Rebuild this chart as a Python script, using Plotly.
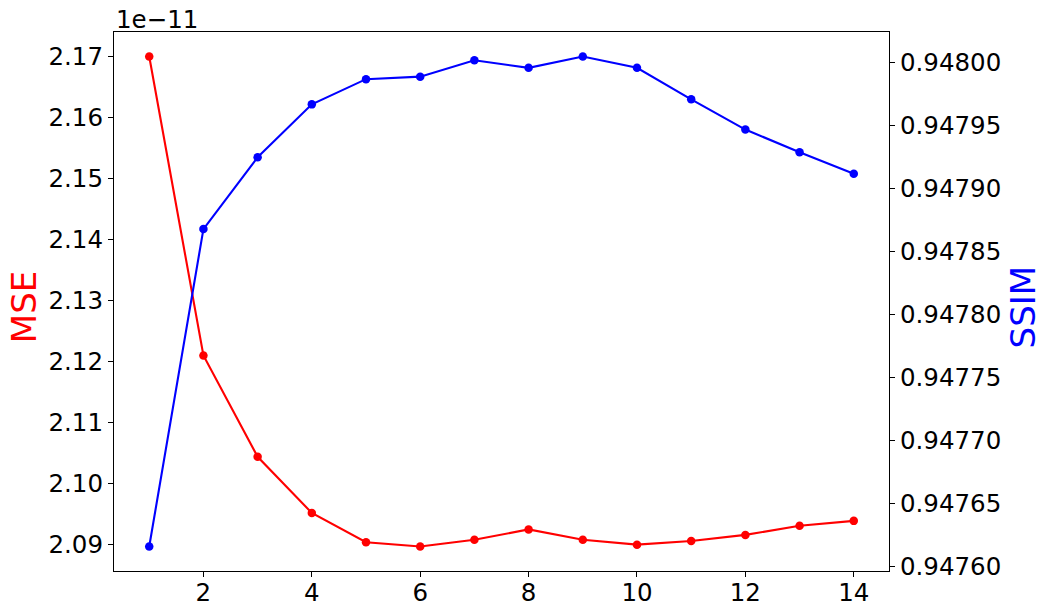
import numpy as np
import plotly.graph_objects as go

# ---- data ----
epochs = list(range(1, 15))
mse = [2.1700e-11, 2.1210e-11, 2.1044e-11, 2.0952e-11, 2.0904e-11, 2.0897e-11, 2.0908e-11,
       2.0925e-11, 2.0908e-11, 2.0900e-11, 2.0906e-11, 2.0916e-11, 2.0931e-11, 2.0939e-11]
ssim = [0.947616, 0.947868, 0.947925, 0.947967, 0.947987, 0.947989, 0.948002,
        0.947996, 0.948005, 0.947996, 0.947971, 0.947947, 0.947929, 0.947912]
x_ticks = [2, 4, 6, 8, 10, 12, 14]
mse_ticks = [2.09e-11, 2.10e-11, 2.11e-11, 2.12e-11, 2.13e-11, 2.14e-11, 2.15e-11, 2.16e-11, 2.17e-11]
ssim_ticks = [0.94760, 0.94765, 0.94770, 0.94775, 0.94780, 0.94785, 0.94790, 0.94795, 0.94800]


def padded(vals, frac=0.05):
    lo, hi = min(vals), max(vals)
    d = (hi - lo) * frac
    return [lo - d, hi + d]


FONT = "DejaVu Sans"
TICK_SIZE = 24.5
LABEL_SIZE = 34

W, H = 1051, 615
PLOT_W = 775

fig = go.Figure()
fig.add_trace(go.Scatter(x=epochs, y=mse, mode="lines+markers", yaxis="y",
                         line=dict(color="#ff0000", width=2.1),
                         marker=dict(color="#ff0000", size=8.5)))
fig.add_trace(go.Scatter(x=epochs, y=ssim, mode="lines+markers", yaxis="y2",
                         line=dict(color="#0000ff", width=2.1),
                         marker=dict(color="#0000ff", size=8.5)))

axis_common = dict(showgrid=False, zeroline=False, showline=True, linecolor="black",
                   linewidth=1.1, ticks="outside", ticklen=5, tickwidth=1.1,
                   tickcolor="black", automargin=False,
                   tickfont=dict(family=FONT, size=TICK_SIZE, color="black"))

fig.update_layout(
    width=W, height=H,
    margin=dict(l=114, r=162, t=32, b=44, autoexpand=False),
    paper_bgcolor="white", plot_bgcolor="white",
    showlegend=False,
    font=dict(family=FONT),
    xaxis=dict(range=[epochs[0] - 0.05 * (epochs[-1] - epochs[0]),
                      epochs[-1] + 0.05 * (epochs[-1] - epochs[0])],
               tickvals=x_ticks, ticktext=[str(t) for t in x_ticks],
               ticklabelstandoff=-5,
               mirror=True, **axis_common),
    yaxis=dict(range=padded(mse), tickvals=mse_ticks,
               ticktext=[f"{v / 1e-11:.2f}" for v in mse_ticks], **axis_common),
    yaxis2=dict(range=padded(ssim), tickvals=ssim_ticks,
                ticktext=[f"{v:.5f}" for v in ssim_ticks],
                overlaying="y", side="right", **axis_common),
    annotations=[
        dict(text="1e\u221211", xref="paper", yref="paper", x=0, y=1,
             xanchor="left", yanchor="bottom", yshift=-4, showarrow=False,
             font=dict(family=FONT, size=TICK_SIZE, color="black")),
        dict(text="MSE", xref="paper", yref="paper", x=(24.3 - 114) / PLOT_W, y=0.49,
             xanchor="center", yanchor="middle", textangle=-90, showarrow=False,
             font=dict(family=FONT, size=LABEL_SIZE, color="#ff0000")),
        dict(text="SSIM", xref="paper", yref="paper", x=(1022.5 - 114) / PLOT_W, y=0.49,
             xanchor="center", yanchor="middle", textangle=-90, showarrow=False,
             font=dict(family=FONT, size=LABEL_SIZE, color="#0000ff")),
    ],
)

fig.write_html("out.html", config={"displayModeBar": False},
               post_script="document.body.style.margin='0px';document.body.style.overflow='hidden';")
